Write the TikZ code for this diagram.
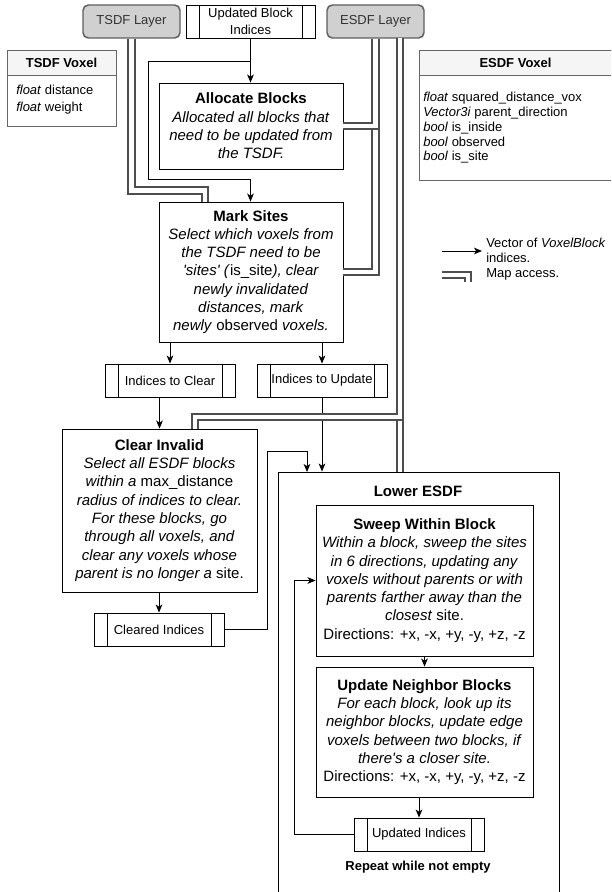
\documentclass[tikz,border=0pt]{standalone}
\usepackage{fontspec}
\setmainfont{Liberation Sans}
\usetikzlibrary{arrows.meta}
\definecolor{linkgray}{HTML}{4E4E4E}
\definecolor{layerfill}{HTML}{D0D0D0}
\definecolor{layerdraw}{HTML}{5E5E5E}
\definecolor{layertext}{HTML}{333333}
\definecolor{headfill}{HTML}{F5F5F5}
\definecolor{tabledraw}{HTML}{666666}
\newcommand{\bigtxt}{\fontsize{11.25pt}{13.7pt}\selectfont}
\newcommand{\smalltxt}{\fontsize{9.75pt}{11.7pt}\selectfont}
\begin{document}
\begin{tikzpicture}[x=0.75pt,y=-0.75pt,
  sz/.style 2 args={minimum width=#1*0.75pt, minimum height=#2*0.75pt},
  box/.style={draw=black, line width=0.7pt, inner sep=0pt, align=center, font=\bigtxt},
  proc/.style={draw=black, line width=0.7pt, inner sep=0pt, align=center, font=\smalltxt,
     path picture={\draw[line width=0.7pt] ([xshift=9.75pt]path picture bounding box.north west) -- ([xshift=9.75pt]path picture bounding box.south west);
       \draw[line width=0.7pt] ([xshift=-9.75pt]path picture bounding box.north east) -- ([xshift=-9.75pt]path picture bounding box.south east);}},
  layer/.style={draw=layerdraw, fill=layerfill, line width=1.1pt, rounded corners=4pt, inner sep=0pt, font=\smalltxt, text=layertext},
  tab/.style={draw=tabledraw, line width=0.7pt, inner sep=0pt, fill=white},
  tabhead/.style={draw=tabledraw, line width=0.7pt, inner sep=0pt, fill=headfill, font=\smalltxt\bfseries},
  arr/.style={draw=black, line width=0.7pt, -{Stealth[length=6pt,width=5pt,inset=1.6pt]}},
  maplink/.style={draw=linkgray, line width=1.4pt, double=white, double distance=3.6pt},
]
\useasboundingbox (0,0) rectangle (611,892);
\clip (0,0) rectangle (611,892);

% top row
\node[layer, sz={97}{33}] (tsdfL) at (131.5,21.5) {TSDF Layer};
\node[proc, sz={129}{33}, font=\fontsize{9.75pt}{12.3pt}\selectfont] (ubi) at (250.5,21.5) {Updated Block\\Indices};
\node[layer, sz={97}{33}] (esdfL) at (375.5,21.5) {ESDF Layer};

% tables
\node[tab, sz={109}{76}] (tsdfV) at (61.5,88) {};
\node[tabhead, sz={109}{25}] (tsdfH) at (61.5,62.5) {TSDF Voxel};
\node[anchor=north west, inner sep=0pt, align=left, font=\fontsize{9.75pt}{12.75pt}\selectfont] (tsdfB) at (16,85) {\textit{float} distance\\\textit{float} weight};

\node[tab, sz={193}{130}] (esdfV) at (515.5,115) {};
\node[tabhead, sz={193}{25}] (esdfH) at (515.5,62.5) {ESDF Voxel};
\node[anchor=north west, inner sep=0pt, align=left, font=\fontsize{9.75pt}{11.1pt}\selectfont] (esdfB) at (423,92) {\textit{float} squared\_distance\_vox\\\textit{Vector3i} parent\_direction\\\textit{bool} is\_inside\\\textit{bool} observed\\\textit{bool} is\_site};

% main boxes
\node[box, sz={184}{86}] (alloc) at (251,126) {\textbf{Allocate Blocks}\\\textit{Allocated all blocks that}\\\textit{need to be updated from}\\\textit{the TSDF.}};
\node[box, sz={184}{140}] (mark) at (251,272) {\textbf{Mark Sites}\\\textit{Select which voxels from}\\\textit{the TSDF need to be}\\\textit{\textquotesingle sites\textquotesingle{} (}is\_site\textit{), clear}\\\textit{newly invalidated}\\\textit{distances, mark}\\\textit{newly} observed \textit{voxels.}};
\node[proc, sz={130}{33}] (itc) at (170,380.5) {Indices to Clear};
\node[proc, sz={130}{33}] (itu) at (322,380.5) {Indices to Update};
\node[box, sz={195}{163}] (clear) at (159.5,510.5) {\textbf{Clear Invalid}\\\textit{Select all ESDF blocks}\\\textit{within a} max\_distance\\\textit{radius of indices to clear.}\\\textit{For these blocks, go}\\\textit{through all voxels, and}\\\textit{clear any voxels whose}\\\textit{parent is no longer a} site.};
\node[proc, sz={130}{33}] (cleared) at (159,629.5) {Cleared Indices};

\node[box, sz={281}{430}] (lower) at (418.5,687) {};
\node[font=\bigtxt\bfseries, inner sep=0pt] (lowerT) at (418,491) {Lower ESDF};
\node[box, sz={217}{151}] (sweep) at (424.5,580.5) {\textbf{Sweep Within Block}\\\textit{Within a block, sweep the sites}\\\textit{in 6 directions, updating any}\\\textit{voxels without parents or with}\\\textit{parents farther away than the}\\\textit{closest} site.\\Directions: +x, -x, +y, -y, +z, -z};
\node[box, sz={217}{130}] (unb) at (424.5,732) {\textbf{Update Neighbor Blocks}\\\textit{For each block, look up its}\\\textit{neighbor blocks, update edge}\\\textit{voxels between two blocks, if}\\\textit{there\textquotesingle s a closer site.}\\Directions: +x, -x, +y, -y, +z, -z};
\node[proc, sz={130}{33}] (upd) at (419,834.5) {Updated Indices};
\node[font=\smalltxt\bfseries, inner sep=0pt] (rep) at (418,867) {Repeat while not empty};

% legend
\coordinate (lgA) at (442,251);
\coordinate (lgB) at (482,251);
\draw[arr] (lgA) -- (lgB);
\node[anchor=west, inner sep=0pt, align=left, font=\fontsize{9.75pt}{11.25pt}\selectfont] (lgT1) at (486,250.5) {Vector of \textit{VoxelBlock}\\indices.};
\coordinate (lgC) at (442,275);
\coordinate (lgD) at (468,282);
\node[anchor=west, inner sep=0pt, font=\smalltxt] (lgT2) at (486,274) {Map access.};

% single connectors
\coordinate (j1) at (250.5,61);
\draw[arr] (ubi.south) -- (ubi.south |- alloc.north);
\draw[arr] (j1) -- (148,61) -- (148,179) -- (250.5,179) -- (j1 |- mark.north);
\draw[arr] (mark.south -| itc.north) -- (itc.north);
\draw[arr] (mark.south -| itu.north) -- (itu.north);
\draw[arr] (itc.south -| clear.north) -- (clear.north);
\draw[arr] (clear.south -| cleared.north) -- (cleared.north);
\coordinate (l1) at (307,472);
\draw[arr] (cleared.east) -- (267,629.5) -- (267,451) -- (307,451) -- (l1);
\draw[arr] (itu.south) -- (itu.south |- lower.north);
\draw[arr] (sweep.south) -- (unb.north);
\draw[arr] (unb.south -| upd.north) -- (upd.north);
\draw[arr] (upd.west) -- (294,834.5) -- (294,580.5) -- (sweep.west);

% map access links
\draw[maplink] (lgC) -- (lgD |- lgC) -- (lgD);
\coordinate (mt) at (205,202);
\draw[maplink] (tsdfL.south) |- (205,190.5) -- (mt);
\draw[maplink] (esdfL.south) |- (mark.east);
\draw[maplink] (esdfL.south) |- (alloc.east);
\coordinate (e2) at (400,38);
\coordinate (l2) at (400,472);
\coordinate (ct) at (195,429);
\draw[maplink] (e2) -- (l2);
\draw[maplink] (e2) |- (ct |- 0,417) -- (ct);
\end{tikzpicture}
\end{document}
